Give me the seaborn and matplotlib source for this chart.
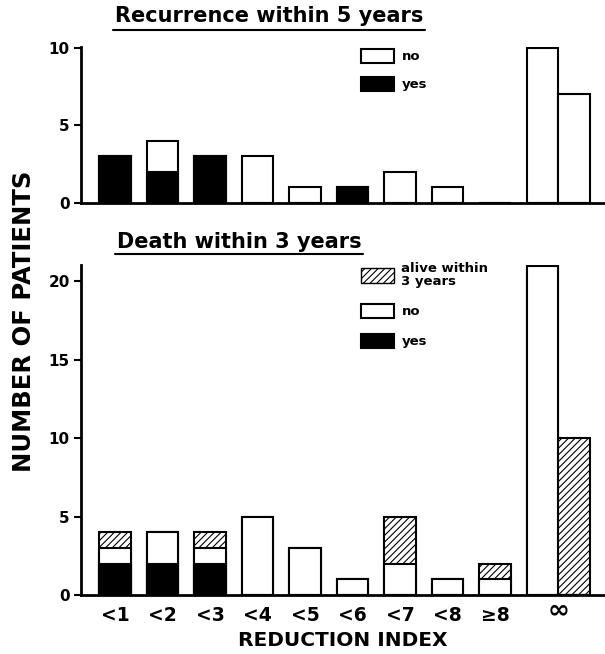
import pandas as pd
import matplotlib
matplotlib.use("Agg")
import matplotlib.pyplot as plt
import matplotlib.transforms as mtransforms
import seaborn as sns
from matplotlib.patches import Patch
from matplotlib.lines import Line2D

# reduction index groups (the last group has two bars)
categories = ["<1", "<2", "<3", "<4", "<5", "<6", "<7", "<8", "\u22658", "\u221e"]

# Recurrence within 5 years
rec_yes = [3, 2, 3, 0, 0, 1, 0, 0, 0, 0, 0]
rec_no = [0, 2, 0, 3, 1, 0, 2, 1, 0, 10, 7]

# Death within 3 years
death_yes = [2, 2, 2, 0, 0, 0, 0, 0, 0, 0, 0]
death_no = [1, 2, 1, 5, 3, 1, 2, 1, 1, 21, 0]
death_alive = [1, 0, 1, 0, 0, 0, 3, 0, 1, 0, 10]

sns.set_style("ticks")
plt.rcParams["font.family"] = "DejaVu Sans"
plt.rcParams["font.weight"] = "bold"
plt.rcParams["hatch.linewidth"] = 0.8
for k in ["text.color", "axes.labelcolor", "xtick.color", "ytick.color", "axes.edgecolor"]:
    plt.rcParams[k] = "black"

bar_w = 0.67
xpos = list(range(9)) + [9.0, 9.0 + bar_w]
tick_pos = list(range(9)) + [9.0 + bar_w / 2]
HATCH = "/////"


def layer(ax, heights, color, hatch=None):
    df = pd.DataFrame({"x": xpos, "h": heights})
    sns.barplot(data=df, x="x", y="h", native_scale=True, orient="x", width=1.0,
                color=color, saturation=1, edgecolor="black", linewidth=1.5,
                errorbar=None, hatch=hatch, ax=ax)


def style(ax, ymax, yticks):
    ax.set_xlim(-0.716, 10.316)
    ax.set_ylim(0, ymax)
    ax.set_yticks(yticks)
    ax.set_yticklabels([str(t) for t in yticks], fontsize=11, fontweight="bold")
    ax.set_xlabel("")
    ax.set_ylabel("")
    sns.despine(ax=ax)
    for s in ["left", "bottom"]:
        ax.spines[s].set_linewidth(2)
        ax.spines[s].set_color("black")
    ax.tick_params(axis="y", length=5, width=1.5, pad=3, colors="black")
    ax.tick_params(axis="x", length=0, colors="black")


fig = plt.figure(figsize=(6.05, 6.54), dpi=100)
ax1 = fig.add_axes([0.1339, 0.6896, 0.8661, 0.2385])
ax2 = fig.add_axes([0.1339, 0.0902, 0.8661, 0.5046])

# top panel: stacked yes / no
tot1 = [a + b for a, b in zip(rec_yes, rec_no)]
layer(ax1, tot1, "white")
layer(ax1, rec_yes, "black")
style(ax1, 10.05, [0, 5, 10])
ax1.set_xticks(tick_pos)
ax1.set_xticklabels([])

# bottom panel: stacked yes / no / alive
tot2 = [a + b + c for a, b, c in zip(death_yes, death_no, death_alive)]
mid2 = [a + b for a, b in zip(death_yes, death_no)]
layer(ax2, tot2, "white", hatch=HATCH)
layer(ax2, mid2, "white")
layer(ax2, death_yes, "black")
style(ax2, 21.05, [0, 5, 10, 15, 20])
ax2.set_xticks(tick_pos)
ax2.set_xticklabels(categories, fontsize=13.5, fontweight="bold")
ax2.tick_params(axis="x", pad=8)
inf_lab = ax2.get_xticklabels()[-1]
inf_lab.set_fontsize(19)
inf_lab.set_transform(inf_lab.get_transform()
                      + mtransforms.ScaledTranslation(0, 6 / 72, fig.dpi_scale_trans))

# legends
h_no = Patch(facecolor="white", edgecolor="black", linewidth=1.5)
h_yes = Patch(facecolor="black", edgecolor="black", linewidth=1.5)
h_alive = Patch(facecolor="white", edgecolor="black", linewidth=1.0, hatch=HATCH)
leg_kw = dict(frameon=False, borderpad=0, handlelength=2.5, handleheight=1.3,
              handletextpad=0.6, prop={"size": 9.5, "weight": "bold"},
              bbox_transform=fig.transFigure)

ax1.legend([h_no, h_yes], ["no", "yes"], loc="center left",
           bbox_to_anchor=(0.585, 1 - 70 / 654), labelspacing=1.0, **leg_kw)

leg_a = ax2.legend([h_alive], ["alive within\n3 years"], loc="center left",
                   bbox_to_anchor=(0.585, 1 - 275 / 654), **leg_kw)
for t in leg_a.get_texts():
    t.set_linespacing(1.0)
ax2.add_artist(leg_a)
ax2.legend([h_no, h_yes], ["no", "yes"], loc="center left",
           bbox_to_anchor=(0.585, 1 - 326 / 654), labelspacing=1.15, **leg_kw)

# titles with underline
t1 = fig.text(115 / 605, 1 - 16 / 654, "Recurrence within 5 years", fontsize=15,
              fontweight="bold", ha="left", va="center")
t2 = fig.text(117 / 605, 1 - 242 / 654, "Death within 3 years", fontsize=15,
              fontweight="bold", ha="left", va="center")

fig.text(24 / 605, 1 - 321 / 654, "NUMBER OF PATIENTS", rotation=90, fontsize=17.5,
         fontweight="bold", ha="center", va="center")
fig.text(343 / 605, 1 - 640 / 654, "REDUCTION INDEX", fontsize=14.5,
         fontweight="bold", ha="center", va="center")

fig.canvas.draw()
r = fig.canvas.get_renderer()
for t, yline in [(t1, 30), (t2, 254)]:
    bb = t.get_window_extent(r).transformed(fig.transFigure.inverted())
    fig.add_artist(Line2D([bb.x0 - 0.003, bb.x1 + 0.003], [1 - yline / 654] * 2,
                          color="black", linewidth=1.5, transform=fig.transFigure))

fig.savefig("out.png", dpi=100)
